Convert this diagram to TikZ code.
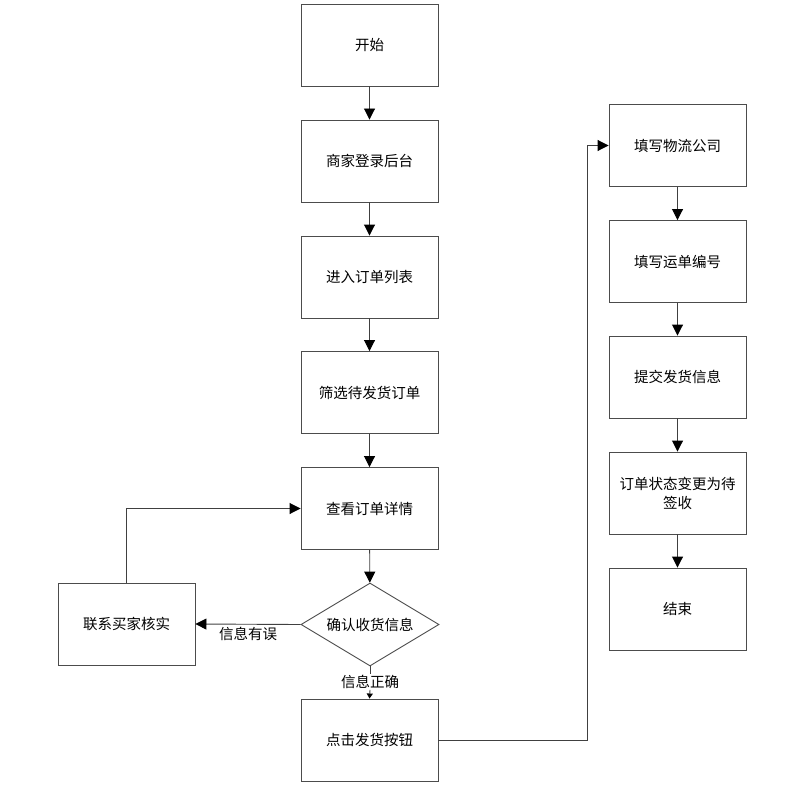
\documentclass[tikz,border=0pt]{standalone}
\usepackage{fontspec}
\newfontfamily\cjk{Noto Sans CJK SC}
\usetikzlibrary{shapes.geometric,arrows.meta}
\begin{document}
\begin{tikzpicture}[x=1pt,y=-1pt,
  box/.style={draw=black!70,line width=0.9pt,minimum width=137pt,minimum height=82pt,inner sep=0pt,font=\cjk\fontsize{14.5}{19}\selectfont,align=center},
  dec/.style={draw=black!70,line width=0.9pt,diamond,aspect=1.66,minimum width=138pt,minimum height=83pt,inner sep=0pt,font=\cjk\fontsize{14.5}{19}\selectfont},
  lbl/.style={font=\cjk\fontsize{14.5}{19}\selectfont,inner sep=1pt},
  conn/.style={draw=black!75,line width=0.9pt,-{Triangle[length=11pt,width=11pt,color=black]}},
  plain/.style={draw=black!75,line width=0.9pt}]
\useasboundingbox (0,0) rectangle (791,786);
\node[box] (start) at (369.5,45) {开始};
\node[box] (login) at (369.5,161) {商家登录后台};
\node[box] (list) at (369.5,277) {进入订单列表};
\node[box] (filter) at (369.5,392.5) {筛选待发货订单};
\node[box] (detail) at (369.5,508.5) {查看订单详情};
\node[dec] (check) at (370,624.5) {确认收货信息};
\node[box] (ship) at (369.5,740) {点击发货按钮};
\node[box] (contact) at (126.5,624) {联系买家核实};
\node[box] (company) at (677.5,145.5) {填写物流公司};
\node[box] (number) at (677.5,261.5) {填写运单编号};
\node[box] (submit) at (677.5,377) {提交发货信息};
\node[box] (status) at (677.5,493) {订单状态变更为待\\签收};
\node[box] (end) at (677.5,609) {结束};
\draw[conn] (start) -- (login);
\draw[conn] (login) -- (list);
\draw[conn] (list) -- (filter);
\draw[conn] (filter) -- (detail);
\draw[conn] (detail) -- (check);
\draw[conn] (check.west) -- node[lbl,below=1pt,pos=0.5] {信息有误} (contact.east);
\draw[conn] (contact.north) |- (detail.west);
\node[lbl,fill=white] (ok) at (370,682) {信息正确};
\draw[plain] (check.south) -- (ok.north);
\draw[draw=black!75,line width=0.9pt,-{Triangle[length=5pt,width=6pt,color=black]}] (ok.south) -- (ship.north);
\coordinate (bend) at (587,740);
\draw[conn] (ship.east) -- (bend) |- (company.west);
\draw[conn] (company) -- (number);
\draw[conn] (number) -- (submit);
\draw[conn] (submit) -- (status);
\draw[conn] (status) -- (end);
\end{tikzpicture}
\end{document}
